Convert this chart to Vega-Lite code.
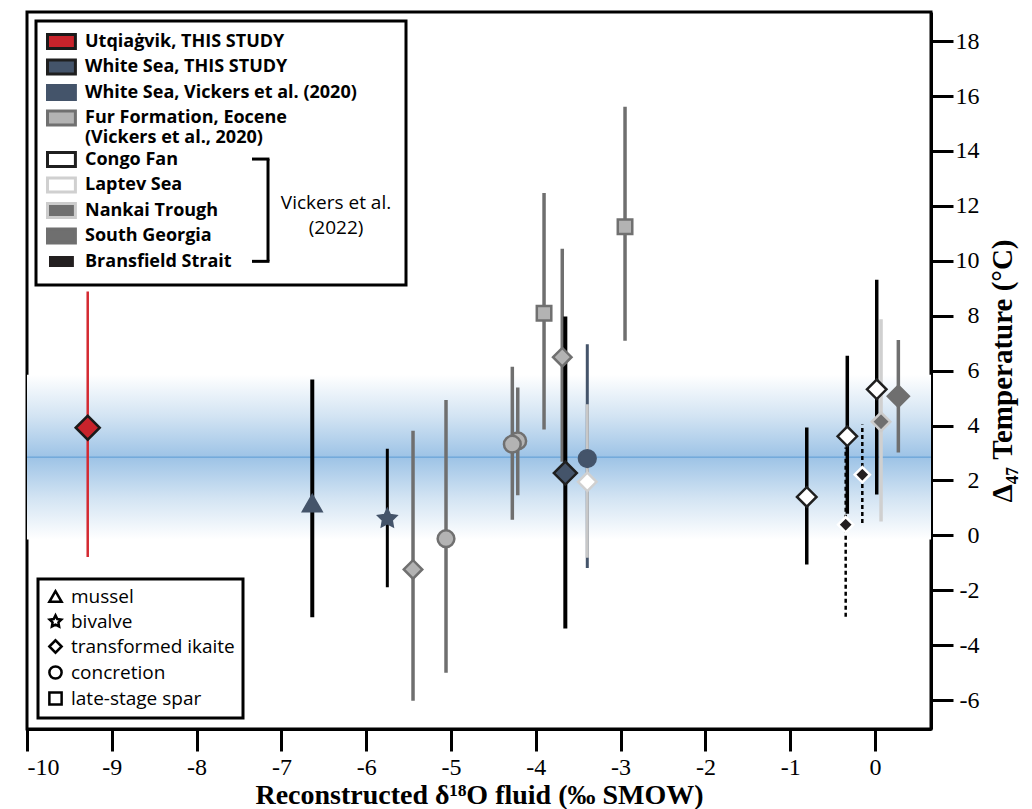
{
  "$schema": "https://vega.github.io/schema/vega-lite/v6.json",
  "width": 904,
  "height": 717,
  "autosize": {"type": "none"},
  "padding": {"left": 27, "top": 12, "right": 101, "bottom": 80},
  "background": "white",
  "config": {
    "view": {"stroke": "black", "strokeWidth": 3},
    "axis": {
      "grid": false,
      "domainColor": "black",
      "domainWidth": 3,
      "tickColor": "black",
      "tickWidth": 3,
      "tickSize": 22,
      "labelFont": "Liberation Serif",
      "labelFontSize": 24,
      "labelColor": "black",
      "labelExpr": "toString(datum.value)",
      "titleFont": "Liberation Serif",
      "titleFontWeight": "bold",
      "titleColor": "black"
    },
    "legend": {"strokeColor": "black", "strokeWidth": 3}
  },
  "data": {
    "values": [
      {"source": "Utqiaġvik, THIS STUDY", "type": "transformed ikaite", "x": -9.284, "y": 3.92, "lo": -0.79, "hi": 8.88},
      {"source": "White Sea, Vickers et al. (2020)", "type": "mussel", "x": -6.636, "y": 1.17, "lo": -2.98, "hi": 5.68},
      {"source": "White Sea, Vickers et al. (2020)", "type": "bivalve", "x": -5.751, "y": 0.61, "lo": -1.89, "hi": 3.16},
      {"source": "Fur Formation, Eocene (Vickers et al., 2020)", "type": "transformed ikaite", "x": -5.448, "y": -1.24, "lo": -6.02, "hi": 3.81},
      {"source": "Fur Formation, Eocene (Vickers et al., 2020)", "type": "concretion", "x": -5.059, "y": -0.12, "lo": -5.0, "hi": 4.93},
      {"source": "Fur Formation, Eocene (Vickers et al., 2020)", "type": "concretion", "x": -4.213, "y": 3.44, "lo": 1.46, "hi": 5.39},
      {"source": "Fur Formation, Eocene (Vickers et al., 2020)", "type": "concretion", "x": -4.277, "y": 3.32, "lo": 0.57, "hi": 6.14},
      {"source": "Fur Formation, Eocene (Vickers et al., 2020)", "type": "late-stage spar", "x": -3.903, "y": 8.09, "lo": 3.86, "hi": 12.47},
      {"source": "Fur Formation, Eocene (Vickers et al., 2020)", "type": "transformed ikaite", "x": -3.688, "y": 6.49, "lo": 2.68, "hi": 10.44},
      {"source": "White Sea, THIS STUDY", "type": "transformed ikaite", "x": -3.652, "y": 2.27, "lo": -3.39, "hi": 7.97},
      {"source": "White Sea, Vickers et al. (2020)", "type": "concretion", "x": -3.393, "y": 2.80, "lo": -1.19, "hi": 6.96},
      {"source": "Laptev Sea", "type": "transformed ikaite", "x": -3.393, "y": 1.95, "lo": -0.81, "hi": 4.78},
      {"source": "Fur Formation, Eocene (Vickers et al., 2020)", "type": "late-stage spar", "x": -2.948, "y": 11.24, "lo": 7.09, "hi": 15.61},
      {"source": "Congo Fan", "type": "transformed ikaite", "x": -0.805, "y": 1.40, "lo": -1.06, "hi": 3.93},
      {"source": "Bransfield Strait", "type": "transformed ikaite", "x": -0.346, "y": 0.39, "lo": -2.96, "hi": 3.2},
      {"source": "Congo Fan", "type": "transformed ikaite", "x": -0.327, "y": 3.61, "lo": 0.79, "hi": 6.54},
      {"source": "Bransfield Strait", "type": "transformed ikaite", "x": -0.150, "y": 2.21, "lo": 0.45, "hi": 4.04},
      {"source": "Congo Fan", "type": "transformed ikaite", "x": 0.020, "y": 5.32, "lo": 1.49, "hi": 9.31},
      {"source": "Nankai Trough", "type": "transformed ikaite", "x": 0.071, "y": 4.14, "lo": 0.51, "hi": 7.87},
      {"source": "South Georgia", "type": "transformed ikaite", "x": 0.275, "y": 5.07, "lo": 3.02, "hi": 7.12}
    ]
  },
  "layer": [
    {
      "data": {"values": [{}]},
      "mark": {
        "type": "rect",
        "fill": {
          "gradient": "linear",
          "x1": 0, "y1": 0, "x2": 0, "y2": 1,
          "stops": [
            {"offset": 0, "color": "#ffffff"},
            {"offset": 0.25, "color": "#d3e4f3"},
            {"offset": 0.5, "color": "#9dc3e6"},
            {"offset": 0.75, "color": "#d3e4f3"},
            {"offset": 1, "color": "#ffffff"}
          ]
        }
      },
      "encoding": {
        "x": {"datum": -10, "type": "quantitative", "title": "Reconstructed δ¹⁸O fluid (‰ SMOW)"},
        "x2": {"datum": 0.66},
        "y": {"datum": 5.85, "type": "quantitative", "title": "Δ₄₇ Temperature (°C)"},
        "y2": {"datum": -0.15}
      }
    },
    {
      "data": {"values": [{}]},
      "mark": {"type": "rule", "color": "#5b9bd5", "strokeWidth": 1},
      "encoding": {
        "y": {"datum": 2.85, "type": "quantitative", "title": "Δ₄₇ Temperature (°C)"}
      }
    },
    {
      "mark": {"type": "rule"},
      "encoding": {
        "x": {
          "field": "x", "type": "quantitative",
          "title": "Reconstructed δ¹⁸O fluid (‰ SMOW)",
          "scale": {"domain": [-10, 0.66], "nice": false, "zero": false},
          "axis": {"values": [-10, -9, -8, -7, -6, -5, -4, -3, -2, -1, 0], "labelPadding": 4, "titleFontSize": 28, "titlePadding": 2}
        },
        "y": {
          "field": "lo", "type": "quantitative",
          "title": "Δ₄₇ Temperature (°C)",
          "scale": {"domain": [-7.05, 19.06], "nice": false, "zero": false},
          "axis": {"orient": "right", "values": [-6, -4, -2, 0, 2, 4, 6, 8, 10, 12, 14, 16, 18], "labelAlign": "right", "labelPadding": 26, "titleFontSize": 29, "titleAngle": 270, "titleBaseline": "top", "titlePadding": 9}
        },
        "y2": {"field": "hi"},
        "color": {
          "condition": [
            {"test": "datum.source === 'Utqiaġvik, THIS STUDY'", "value": "#d42a32"},
            {"test": "datum.source === 'White Sea, Vickers et al. (2020)' && datum.type === 'concretion'", "value": "#44546a"},
            {"test": "datum.source === 'Fur Formation, Eocene (Vickers et al., 2020)' || datum.source === 'South Georgia'", "value": "#6f6f6f"},
            {"test": "datum.source === 'Laptev Sea'", "value": "#c8c8c8"},
            {"test": "datum.source === 'Nankai Trough'", "value": "#d0d0d0"}
          ],
          "value": "#000000"
        },
        "strokeWidth": {
          "condition": [
            {"test": "datum.source === 'Utqiaġvik, THIS STUDY' || datum.source === 'Bransfield Strait'", "value": 2.5},
            {"test": "datum.source === 'White Sea, THIS STUDY' || datum.type === 'mussel'", "value": 4},
            {"test": "datum.source === 'White Sea, Vickers et al. (2020)' || datum.source === 'Laptev Sea'", "value": 3}
          ],
          "value": 3.5
        },
        "strokeDash": {
          "condition": {"test": "datum.source === 'Bransfield Strait'", "value": [4, 3]},
          "value": [1, 0]
        }
      }
    },
    {
      "mark": {"type": "point", "filled": true, "opacity": 1, "strokeWidth": 2.5},
      "encoding": {
        "x": {"field": "x", "type": "quantitative", "title": "Reconstructed δ¹⁸O fluid (‰ SMOW)"},
        "y": {"field": "y", "type": "quantitative", "title": "Δ₄₇ Temperature (°C)"},
        "fill": {
          "field": "source", "type": "nominal",
          "scale": {
            "domain": ["Utqiaġvik, THIS STUDY", "White Sea, THIS STUDY", "White Sea, Vickers et al. (2020)", "Fur Formation, Eocene (Vickers et al., 2020)", "Congo Fan", "Laptev Sea", "Nankai Trough", "South Georgia", "Bransfield Strait"],
            "range": ["#c8232b", "#44546a", "#44546a", "#b3b3b3", "#ffffff", "#ffffff", "#6f6f6f", "#6f6f6f", "#231f20"]
          },
          "legend": {
            "title": null, "orient": "top-left", "offset": 9, "padding": 10,
            "symbolType": "M-1,-0.78H2.1V0.78H-1Z", "symbolSize": 324, "symbolStrokeWidth": 3,
            "labelFont": "Open Sans", "labelFontSize": 18, "labelFontWeight": "bold", "labelColor": "black",
            "labelLimit": 400, "rowPadding": -1.5, "labelOffset": 18,
            "labelExpr": "datum.label === 'Fur Formation, Eocene (Vickers et al., 2020)' ? ['Fur Formation, Eocene', '(Vickers et al., 2020)'] : datum.label === 'White Sea, Vickers et al. (2020)' ? datum.label + '\u2800\u2800\u2800' : datum.label"
          }
        },
        "stroke": {
          "field": "source", "type": "nominal",
          "scale": {
            "domain": ["Utqiaġvik, THIS STUDY", "White Sea, THIS STUDY", "White Sea, Vickers et al. (2020)", "Fur Formation, Eocene (Vickers et al., 2020)", "Congo Fan", "Laptev Sea", "Nankai Trough", "South Georgia", "Bransfield Strait"],
            "range": ["#1a1a1a", "#1f1f1f", "#44546a", "#707070", "#1f1f1f", "#d0d0d0", "#cccccc", "#6f6f6f", "#ffffff"]
          },
          "legend": {
            "title": null, "orient": "top-left", "offset": 9, "padding": 10,
            "symbolType": "M-1,-0.78H2.1V0.78H-1Z", "symbolSize": 324, "symbolStrokeWidth": 3,
            "labelFont": "Open Sans", "labelFontSize": 18, "labelFontWeight": "bold", "labelColor": "black",
            "labelLimit": 400, "rowPadding": -1.5, "labelOffset": 18,
            "labelExpr": "datum.label === 'Fur Formation, Eocene (Vickers et al., 2020)' ? ['Fur Formation, Eocene', '(Vickers et al., 2020)'] : datum.label === 'White Sea, Vickers et al. (2020)' ? datum.label + '\u2800\u2800\u2800' : datum.label"
          }
        },
        "size": {
          "condition": [
            {"test": "datum.source === 'Utqiaġvik, THIS STUDY'", "value": 576},
            {"test": "datum.source === 'White Sea, THIS STUDY'", "value": 530},
            {"test": "datum.source === 'Congo Fan'", "value": 380},
            {"test": "datum.source === 'South Georgia'", "value": 440},
            {"test": "datum.source === 'Bransfield Strait'", "value": 230},
            {"test": "datum.type === 'transformed ikaite'", "value": 340},
            {"test": "datum.type === 'late-stage spar'", "value": 210},
            {"test": "datum.type === 'concretion'", "value": 280}
          ],
          "value": 330
        },
        "shape": {
          "field": "type", "type": "nominal",
          "scale": {
            "domain": ["mussel", "bivalve", "transformed ikaite", "concretion", "late-stage spar"],
            "range": ["triangle-up", "M0,-1L0.294,-0.405L0.951,-0.309L0.476,0.155L0.588,0.809L0,0.5L-0.588,0.809L-0.476,0.155L-0.951,-0.309L-0.294,-0.405Z", "diamond", "circle", "square"]
          },
          "legend": {
            "title": null, "orient": "bottom-left", "offset": 11, "padding": 8,
            "symbolFillColor": "white", "symbolStrokeColor": "black", "symbolStrokeWidth": 2.5, "symbolSize": 150,
            "labelFont": "Open Sans", "labelFontSize": 19, "labelColor": "black", "labelLimit": 300, "rowPadding": 3, "labelOffset": 6
          }
        }
      }
    },
    {
      "data": {"values": [{}]},
      "mark": {"type": "text", "text": ["Vickers et al.", "(2022)"], "font": "Open Sans", "fontSize": 19, "color": "black", "align": "center", "baseline": "middle", "lineHeight": 25},
      "encoding": {
        "x": {"datum": -6.356, "type": "quantitative", "title": "Reconstructed δ¹⁸O fluid (‰ SMOW)"},
        "y": {"datum": 12.1, "type": "quantitative", "title": "Δ₄₇ Temperature (°C)"}
      }
    },
    {
      "data": {"values": [{}]},
      "mark": {"type": "rule", "color": "black", "strokeWidth": 3},
      "encoding": {
        "x": {"datum": -7.158, "type": "quantitative", "title": "Reconstructed δ¹⁸O fluid (‰ SMOW)"},
        "y": {"datum": 13.705, "type": "quantitative", "title": "Δ₄₇ Temperature (°C)"},
        "y2": {"datum": 9.98}
      }
    },
    {
      "data": {"values": [{}]},
      "mark": {"type": "rule", "color": "black", "strokeWidth": 3},
      "encoding": {
        "x": {"datum": -7.347, "type": "quantitative", "title": "Reconstructed δ¹⁸O fluid (‰ SMOW)"},
        "x2": {"datum": -7.141},
        "y": {"datum": 13.705, "type": "quantitative", "title": "Δ₄₇ Temperature (°C)"}
      }
    },
    {
      "data": {"values": [{}]},
      "mark": {"type": "rule", "color": "black", "strokeWidth": 3},
      "encoding": {
        "x": {"datum": -7.347, "type": "quantitative", "title": "Reconstructed δ¹⁸O fluid (‰ SMOW)"},
        "x2": {"datum": -7.141},
        "y": {"datum": 9.98, "type": "quantitative", "title": "Δ₄₇ Temperature (°C)"}
      }
    }
  ]
}
